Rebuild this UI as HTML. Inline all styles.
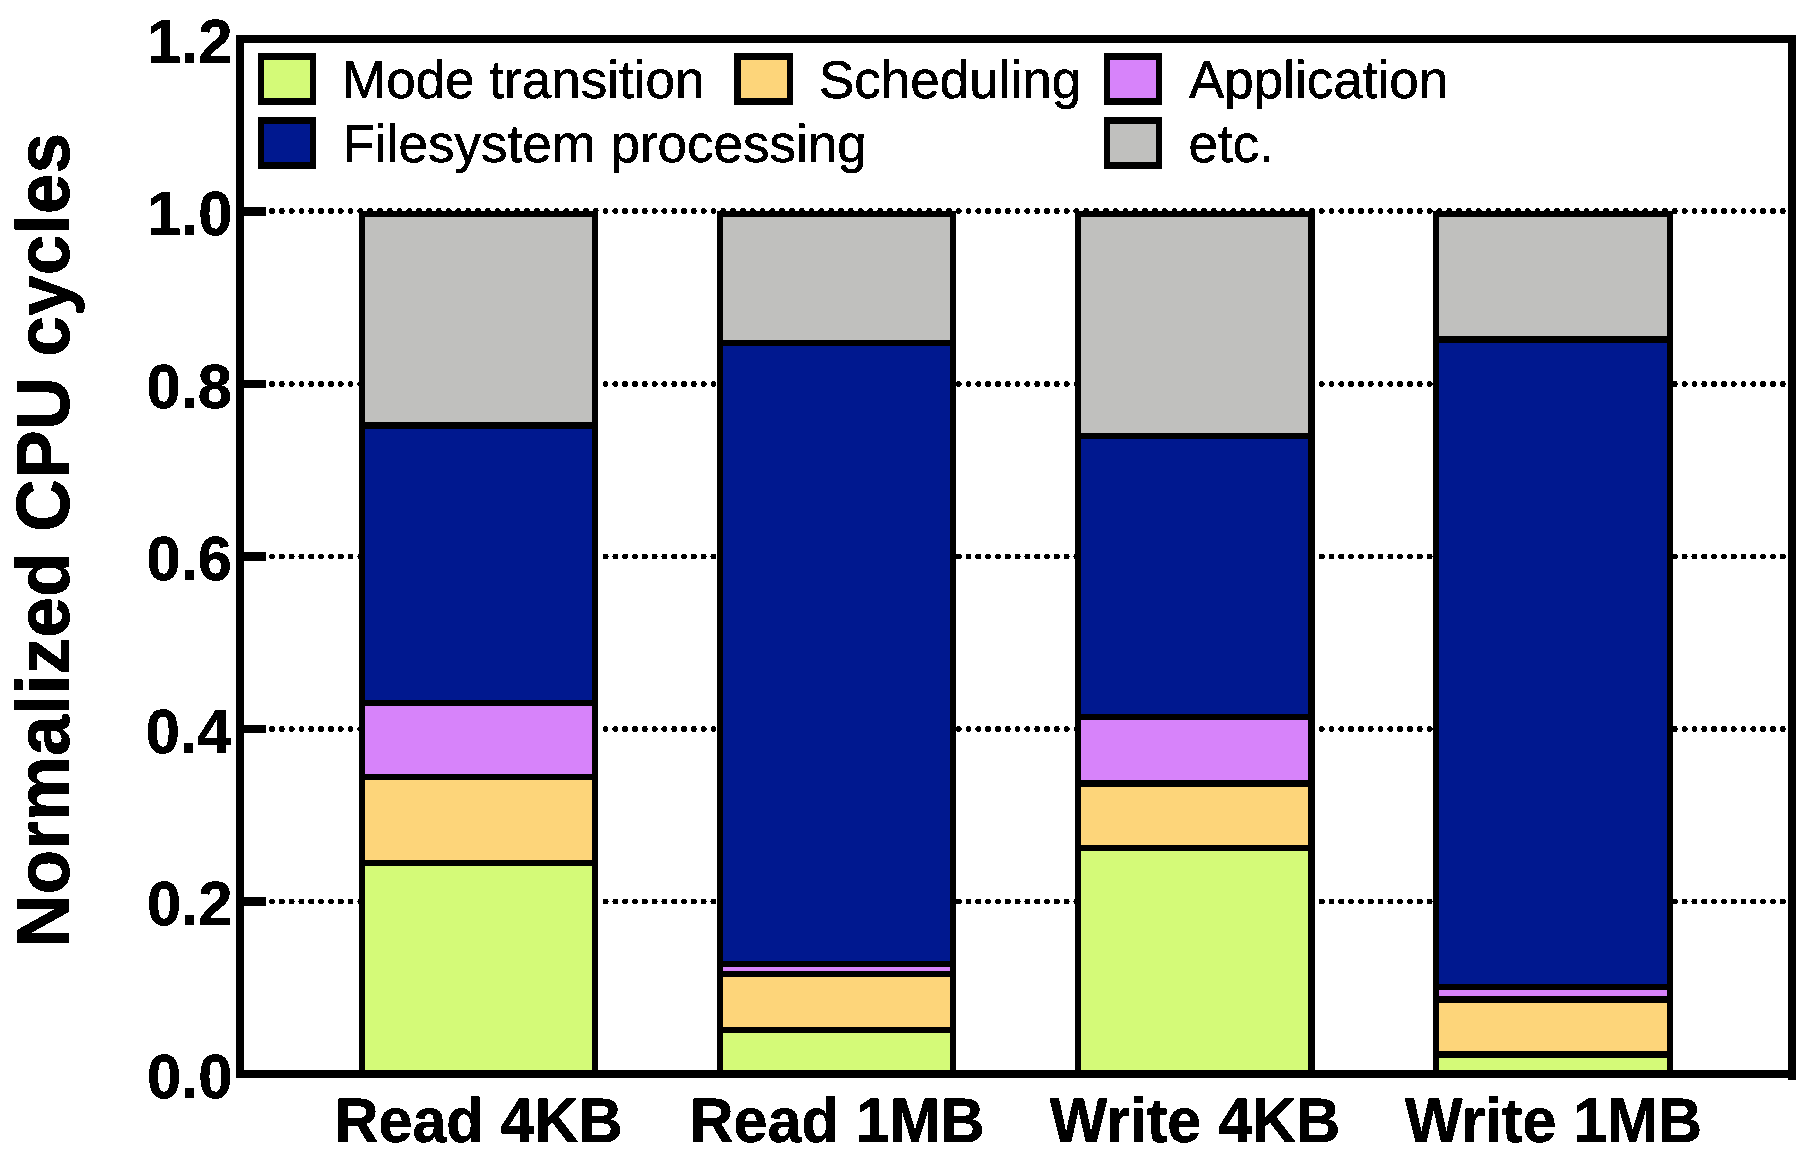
<!DOCTYPE html>
<html lang="en">
<head>
<meta charset="utf-8">
<title>Normalized CPU cycles</title>
<style>
html,body{margin:0;padding:0;background:#fff;}
svg{display:block;}
</style>
</head>
<body>
<svg width="1817" height="1164" viewBox="0 0 1817 1164">
<rect width="1817" height="1164" fill="#fff"/>
<filter id="bin2" filterUnits="userSpaceOnUse" x="0" y="0" width="1817" height="1164" color-interpolation-filters="sRGB"><feComponentTransfer><feFuncA type="discrete" tableValues="0 0 1 1"/></feComponentTransfer></filter>
<filter id="bin" filterUnits="userSpaceOnUse" x="0" y="0" width="1817" height="1164" color-interpolation-filters="sRGB"><feComponentTransfer><feFuncA type="discrete" tableValues="0 1 1 1 1 1"/></feComponentTransfer></filter>
<clipPath id="gc"><path d="M244 200H359V1000H244ZM599 200H717V1000H599ZM956 200H1075V1000H956ZM1315 200H1433V1000H1315ZM1673 200H1788V1000H1673ZM359 200H1673V211H359Z"/></clipPath>
<g clip-path="url(#gc)" filter="url(#bin2)" stroke="#000" stroke-width="6" stroke-linecap="round" stroke-dasharray="0 9.81" fill="none">
<path d="M272 211H1784"/>
<path d="M272 384H1784"/>
<path d="M272 556.5H1784"/>
<path d="M272 729H1784"/>
<path d="M272 901.5H1784"/>
</g>
<g shape-rendering="crispEdges">
<rect x="359" y="211" width="239" height="863" fill="#000"/>
<rect x="365" y="217" width="227" height="205" fill="#C0C0BE"/>
<rect x="365" y="429" width="227" height="271" fill="#00188F"/>
<rect x="365" y="706" width="227" height="68" fill="#D783FA"/>
<rect x="365" y="780" width="227" height="80" fill="#FDD57A"/>
<rect x="365" y="866" width="227" height="204" fill="#D4FA78"/>
<rect x="717" y="211" width="239" height="863" fill="#000"/>
<rect x="723" y="217" width="227" height="123" fill="#C0C0BE"/>
<rect x="723" y="346" width="227" height="615" fill="#00188F"/>
<rect x="723" y="967" width="227" height="4" fill="#D783FA"/>
<rect x="723" y="977" width="227" height="50" fill="#FDD57A"/>
<rect x="723" y="1033" width="227" height="37" fill="#D4FA78"/>
<rect x="1075" y="211" width="240" height="863" fill="#000"/>
<rect x="1081" y="217" width="227" height="216" fill="#C0C0BE"/>
<rect x="1081" y="439" width="227" height="275" fill="#00188F"/>
<rect x="1081" y="720" width="227" height="60" fill="#D783FA"/>
<rect x="1081" y="787" width="227" height="58" fill="#FDD57A"/>
<rect x="1081" y="851" width="227" height="219" fill="#D4FA78"/>
<rect x="1433" y="211" width="240" height="863" fill="#000"/>
<rect x="1439" y="217" width="228" height="119" fill="#C0C0BE"/>
<rect x="1439" y="343" width="228" height="641" fill="#00188F"/>
<rect x="1439" y="990" width="228" height="6" fill="#D783FA"/>
<rect x="1439" y="1003" width="228" height="48" fill="#FDD57A"/>
<rect x="1439" y="1058" width="228" height="12" fill="#D4FA78"/>
<rect x="236" y="35" width="1560" height="8" fill="#000"/>
<rect x="236" y="35" width="8" height="1043" fill="#000"/>
<rect x="236" y="1070" width="1560" height="8" fill="#000"/>
<rect x="1788" y="35" width="8" height="1045" fill="#000"/>
<rect x="244" y="207" width="22" height="9" fill="#000"/>
<rect x="244" y="380" width="22" height="8" fill="#000"/>
<rect x="244" y="552" width="22" height="9" fill="#000"/>
<rect x="244" y="725" width="22" height="8" fill="#000"/>
<rect x="244" y="897" width="22" height="9" fill="#000"/>
<rect x="258" y="53" width="58" height="52" fill="#000"/>
<rect x="264" y="60" width="46" height="38" fill="#D4FA78"/>
<rect x="258" y="117" width="58" height="52" fill="#000"/>
<rect x="264" y="124" width="46" height="38" fill="#00188F"/>
<rect x="734" y="53" width="59" height="52" fill="#000"/>
<rect x="741" y="60" width="46" height="38" fill="#FDD57A"/>
<rect x="1104" y="53" width="58" height="52" fill="#000"/>
<rect x="1110" y="60" width="46" height="38" fill="#D783FA"/>
<rect x="1104" y="117" width="58" height="52" fill="#000"/>
<rect x="1110" y="124" width="46" height="38" fill="#C0C0BE"/>
</g>
<g filter="url(#bin)" font-family="'Liberation Sans', Arial, Helvetica, sans-serif" fill="#000" text-rendering="geometricPrecision">
<g font-size="53px">
<text x="342" y="98">Mode transition</text>
<text x="342.5" y="162">Filesystem processing</text>
<text x="819" y="98">Scheduling</text>
<text x="1189" y="98">Application</text>
<text x="1188.5" y="162">etc.</text>
</g>
<g font-size="61.5px" font-weight="bold" text-anchor="end">
<text transform="translate(232.5 63) scale(1 1.015)">1.2</text>
<text transform="translate(232.5 235) scale(1 1.015)">1.0</text>
<text transform="translate(232 407.5) scale(1 1.015)">0.8</text>
<text transform="translate(232 580) scale(1 1.015)">0.6</text>
<text transform="translate(231.3 753) scale(1 1.015)">0.4</text>
<text transform="translate(232.5 925) scale(1 1.015)">0.2</text>
<text transform="translate(232.5 1098) scale(1 1.015)">0.0</text>
</g>
<g font-size="61px" font-weight="bold" text-anchor="middle">
<text transform="translate(478.5 1142) scale(1 1.03)">Read 4KB</text>
<text transform="translate(837 1142) scale(1 1.03)">Read 1MB</text>
<text transform="translate(1195 1142) scale(1 1.03)">Write 4KB</text>
<text transform="translate(1553.5 1142) scale(1 1.03)">Write 1MB</text>
</g>
<text font-size="73.3px" font-weight="bold" text-anchor="middle" transform="translate(69 540) rotate(-90) scale(1 1.02)">Normalized CPU cycles</text>
</g>
</svg>
</body>
</html>
